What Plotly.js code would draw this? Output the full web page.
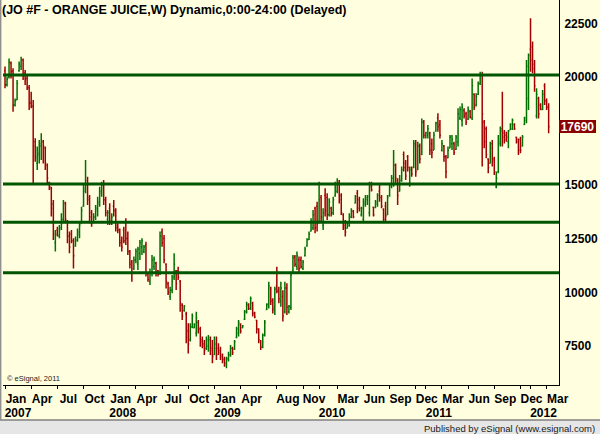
<!DOCTYPE html>
<html><head><meta charset="utf-8">
<script src="https://cdn.plot.ly/plotly-3.0.1.min.js"></script>
<style>html,body{margin:0;padding:0;background:#ffffe0;}#chart{width:600px;height:434px;}</style>
</head><body><div id="chart"></div>
<script>
// ---- data: weekly OHLC, JO #F orange juice ----
const firstWeek = '2007-01-05';

const open = [
 20300,19650,20000,20650,20300,18700,18950,20300,20500,20800,20200,19950,19500,18800,18650,
 17000,16000,16400,16800,17000,16700,15900,15100,14850,14100,12300,12900,12600,13000,13400,
 14150,13300,12600,12700,12400,12150,12400,12700,13200,14000,14800,15200,14400,13700,13250,
 13500,13800,14100,14600,15000,14300,13400,13900,13300,14000,13800,13100,12900,12400,12900,
 13200,12500,11900,11400,11100,11500,11300,11800,12100,
 11900,12200,10850,10500,10900,11200,11350,11000,10900,12800,12500,11300,10400,9800,10100,
 10700,11000,11000,10500,9400,9150,9000,8200,7800,8400,8350,8100,8600,8300,7800,
 7600,7400,7500,7800,7400,7100,7600,7400,7300,7100,6900,6600,6900,7100,7400,
 7350,7900,8100,8500,8350,8750,9100,9450,9250,9500,9050,8700,8300,7700,7450,
 8000,9200,9400,10200,9650,9300,10300,10100,
 9600,9800,9100,10200,9100,9300,11000,11650,11200,11500,11500,11100,11700,12150,12450,
 12850,13000,13900,14000,13300,14400,13100,14500,14400,13600,13900,13700,14500,14700,15100,
 14500,13600,13100,12980,13100,13500,13750,14150,14600,14300,13600,13400,14100,14300,13700,
 15000,13950,13950,14100,14700,14400,13850,14000,13600,14500,14900,15300,15900,15200,14700,
 15200,16400,16000,16300,15000,15800,15800,16800,
 15700,16800,16400,17900,17200,17300,17400,16900,16600,17500,18100,17800,16600,16800,16300,
 16250,16700,16900,16900,16650,17000,18100,18000,18450,18300,18050,18400,18100,19200,18700,
 19200,19700,20100,17900,17600,16200,16000,16900,16200,14900,15600,16900,17600,17400,17300,
 17000,17550,17600,17800,17200,17100,17100,16800,17800,18000,19000,21300,21400,20600,18200,
 19000,18700,18500,19600,18900,18600
];
const high = [
 20490,20020,20870,20720,20410,19010,19870,20720,20950,20870,20330,20100,19630,19320,18940,
 17160,16770,17080,17390,17080,16770,15990,15140,14910,14290,12900,13050,13130,13670,14290,
 14210,13360,12820,12900,12510,12590,12970,13280,13980,15060,16150,15370,14520,13830,13670,
 14060,14440,14910,15140,15220,14440,13830,14140,13670,14290,13900,13210,12970,12590,13050,
 13440,12820,11970,11500,11660,12040,12120,12430,12510,
 12200,12350,10880,11110,11730,11660,11420,11040,12820,12970,12660,11350,10490,10260,10800,
 11810,11040,11190,10570,9490,9410,9100,8560,8560,9020,8560,9100,8710,8400,7940,
 7780,7940,8020,7940,7780,7940,7940,7630,7470,7160,7010,7010,7240,7550,7470,
 7780,8400,8710,8560,8480,9180,9560,9490,9800,9560,9100,8710,8330,7780,8090,
 8710,9490,10490,10260,9720,10260,11190,10260,
 10490,10100,10490,10420,9410,10960,11730,11730,11890,11660,11660,11500,12120,12510,12820,
 13440,13820,13980,14210,15140,14520,13900,14830,14600,14370,13980,14440,15140,15300,15220,
 14600,13670,13360,13280,13670,13900,13820,14520,14750,14440,13980,14370,14520,14520,15140,
 15140,13980,14290,14600,14990,14520,13900,14210,14520,15060,15450,16610,15990,15300,15450,
 15840,16540,16150,16380,15840,15840,17080,17080,
 17000,16920,18080,18010,17460,17770,17460,17150,17460,17930,18320,18010,17080,16840,16380,
 16770,17310,17310,17000,17310,18550,18630,18780,18550,18390,18630,18470,19940,19250,19250,
 19790,20250,20250,18010,17700,16230,17000,17080,16300,15610,17310,17700,19320,17540,17460,
 17540,17850,18080,17850,17230,17150,17230,17310,18160,20790,21100,22730,21650,20790,19480,
 19090,18780,19400,19710,19010,18780
];
const low = [
 19480,19560,19940,19940,18390,18630,18940,20250,20330,19870,19630,19400,18470,18550,15060,
 16070,15680,15990,16150,15990,15680,15060,14750,13520,12430,11890,12590,12510,12900,13210,
 13210,12280,11810,12280,11110,12120,12350,12510,13210,13980,14600,14060,13210,13050,13210,
 13360,13520,13980,14440,14060,13520,13130,13130,13130,13520,12820,12740,12120,11890,12280,
 12200,11730,11110,10490,11040,11350,11040,11500,11730,
 11810,10730,10490,10340,10730,11040,10730,10730,10800,12120,11350,10180,9870,9640,9950,
 10570,10110,10570,9100,8710,9100,7630,7160,7710,8330,8330,7940,8090,7470,7400,
 7090,7320,7240,7090,6700,7090,6850,7090,6850,6700,6540,6470,6780,7010,7090,
 7320,7860,7940,8090,8330,8710,9020,9180,9180,8870,8790,8090,7630,7320,7400,
 7940,9180,9250,9410,9020,8950,9950,9490,
 9330,8640,9020,8950,9020,9180,10960,11190,11040,10880,11110,11040,11660,12120,12430,
 12820,12900,12740,12820,13210,13280,12900,13520,13360,13520,13520,13590,14440,14600,14130,
 13590,12900,12590,12970,13050,13440,13440,14130,13670,13750,13520,13280,13980,14060,13520,
 14680,13520,13900,13980,14210,13900,13280,13280,13590,14440,14830,14910,14990,14060,14680,
 15140,15610,15220,15610,14910,15370,15760,15370,
 15680,15990,16380,17150,17150,17150,16380,16230,16610,17460,17460,17150,16540,16070,15300,
 16230,16690,16610,16380,16610,16770,18010,17700,18080,17770,18010,18080,18010,18470,18630,
 19170,19630,15840,16690,16230,15530,15990,15840,15450,14830,15530,16770,16770,16920,17000,
 16690,17540,17540,17540,16920,16380,16460,16770,17770,17850,18470,20250,20180,19320,18080,
 18080,18470,18470,18700,18470,17390
];
const close = [
 19650,19900,20700,20250,18700,18900,19700,20600,20800,20100,19900,19500,18800,18650,16800,
 16300,16500,16900,17050,16800,16000,15300,14900,13900,12700,12700,12650,12900,13400,14100,
 13400,12600,12100,12400,11700,12450,12800,13100,13800,14700,15000,14300,13500,13200,13500,
 13900,14200,14700,15000,14300,13700,13700,13300,13500,13800,13000,12900,12300,12100,12400,
 12500,11900,11300,10900,11500,11900,12000,12300,12400,
 12100,10900,10600,10900,11500,11550,10900,10850,12600,12300,11500,10500,10000,10100,10500,
 11300,10400,10700,9500,8900,9350,7900,7600,8400,8900,8500,8800,8300,7700,7500,
 7300,7800,7900,7300,7000,7400,7100,7200,7000,6850,6700,6900,7100,7400,7200,
 7700,8300,8600,8200,8450,9100,9400,9250,9700,9000,8850,8300,7800,7450,8000,
 8600,9450,10300,9600,9200,10150,10050,9700,
 10200,8900,10200,9300,9350,10800,11600,11300,11700,11100,11200,11400,12000,12450,12700,
 13300,13600,13000,13200,14300,13500,13700,13800,13600,14200,13700,14300,15000,15200,14300,
 13700,13000,12800,13200,13500,13800,13500,14450,13900,13900,13900,14200,14400,14450,14900,
 14750,13600,14200,14500,14400,14000,13400,13550,14400,15000,15300,15900,15300,14500,15200,
 15700,15800,15400,15800,15700,15500,16900,15600,
 16800,16200,17900,17300,17400,17600,16600,16500,17300,17850,17700,17300,16900,16300,15600,
 16600,17200,17100,16500,17200,18300,18500,18600,18200,17900,18500,18150,19600,18600,19100,
 19700,20100,18300,17000,16400,15800,16700,16100,15600,15300,17000,17500,17200,17100,17200,
 17500,17800,18000,17600,17000,16600,16600,17200,18100,20500,21000,20800,20400,19600,19200,
 18300,18500,19200,18900,18600,17690
];

// horizontal support / resistance levels
const levels = [20100, 15030, 13260, 10910];
const lastPrice = 17690;

// axis ticks
const yTicks = [7500, 10000, 12500, 15000, 20000, 22500];
const monthTickKeys = ['2007-01','2007-04','2007-07','2007-10','2008-01','2008-04','2008-07','2008-10',
  '2009-01','2009-04','2009-08','2009-11','2010-03','2010-06','2010-09','2010-12',
  '2011-03','2011-06','2011-09','2011-12','2012-03'];
const monthTickLabels = ['Jan','Apr','Jul','Oct','Jan','Apr','Jul','Oct','Jan','Apr','Aug','Nov',
  'Mar','Jun','Sep','Dec','Mar','Jun','Sep','Dec','Mar'];
const yearTickKeys = ['2007-01','2008-01','2009-01','2010-01','2011-01','2012-01'];
const yearTickLabels = ['2007','2008','2009','2010','2011','2012'];

const titleText = '(JO #F - ORANGE JUICE,W) Dynamic,0:00-24:00 (Delayed)';

// ---- build ----
const dates = [];
const t0 = Date.parse(firstWeek + 'T00:00:00Z');
for (let i = 0; i < close.length; i++) {
  dates.push(new Date(t0 + i * 7 * 86400000).toISOString().slice(0, 10));
}
const firstBarOf = k => dates.find(d => d.startsWith(k));
const monthVals = monthTickKeys.map(firstBarOf);
const yearVals = yearTickKeys.map(firstBarOf);

const FONT = '"Liberation Sans", Arial, sans-serif';
const boldFont = {family: FONT, size: 12, color: '#000', weight: 'bold'};
const xRange = ['2006-12-29', '2012-04-14'];

const trace = {
  type: 'ohlc', x: dates, open: open, high: high, low: low, close: close,
  increasing: {line: {color: '#007000', width: 1.5}},
  decreasing: {line: {color: '#a00000', width: 1.5}},
  tickwidth: 0.5, hoverinfo: 'skip', showlegend: false
};
// invisible companion so the year axis (x2) is drawn
const yearAxisCarrier = {
  type: 'scatter', mode: 'lines', x: dates, y: close, xaxis: 'x2', yaxis: 'y',
  line: {width: 0, color: 'rgba(0,0,0,0)'}, opacity: 0, hoverinfo: 'skip', showlegend: false
};

const shapes = levels.map(v => ({
  type: 'line', xref: 'paper', yref: 'y', x0: 0, x1: 1, y0: v, y1: v,
  line: {color: '#005500', width: 3}
}));
shapes.push({type: 'rect', xref: 'paper', yref: 'paper', x0: -0.006, x1: 1.075, y0: -0.128, y1: -0.0909,
  fillcolor: '#e6e6e6', line: {width: 0}});
shapes.push({type: 'line', xref: 'paper', yref: 'paper', x0: -0.006, x1: 1.075, y0: -0.0909, y1: -0.0909,
  line: {color: '#808080', width: 1.5}});
shapes.push({type: 'line', xref: 'paper', yref: 'paper', x0: -0.0042, x1: -0.0042, y0: -0.0909, y1: 1.01,
  line: {color: '#909090', width: 1.5}});

const layout = {
  width: 600, height: 434,
  margin: {l: 3, r: 41, t: 0, b: 49, pad: 0},
  paper_bgcolor: '#ffffe0', plot_bgcolor: '#ffffe0',
  showlegend: false,
  title: {text: titleText, xref: 'container', yref: 'container', x: 2 / 600, xanchor: 'left',
    y: 1 - 10 / 434, yanchor: 'middle', font: {family: FONT, size: 12.5, color: '#000', weight: 'bold'}},
  xaxis: {type: 'date', range: xRange, rangeslider: {visible: false}, fixedrange: true,
    tickmode: 'array', tickvals: monthVals, ticktext: monthTickLabels,
    ticks: 'outside', ticklen: 3, tickcolor: '#000', tickwidth: 1,
    showline: true, linecolor: '#000', linewidth: 1, showgrid: false, zeroline: false,
    tickfont: boldFont, ticklabelshift: 11},
  xaxis2: {type: 'date', range: xRange, overlaying: 'x', anchor: 'y', side: 'bottom', fixedrange: true,
    rangeslider: {visible: false},
    tickmode: 'array', tickvals: yearVals, ticktext: yearTickLabels,
    ticks: 'outside', ticklen: 3, tickcolor: '#000', tickwidth: 1,
    showline: false, showgrid: false, zeroline: false,
    tickfont: boldFont, ticklabelshift: 13, ticklabelstandoff: 14},
  yaxis: {side: 'right', range: [5692, 23583], fixedrange: true,
    tickmode: 'array', tickvals: yTicks, ticktext: yTicks.map(String),
    ticks: '', showline: true, linecolor: '#000', linewidth: 1,
    showgrid: false, zeroline: false, tickfont: boldFont, ticklabelstandoff: 2},
  shapes: shapes,
  annotations: [
    {text: String(lastPrice), xref: 'paper', x: 1, xanchor: 'left', yref: 'y', y: lastPrice, yanchor: 'middle',
     showarrow: false, bgcolor: '#8b0000', borderpad: 0, borderwidth: 0, width: 37, height: 13,
     font: {family: FONT, size: 12, color: '#ffffff', weight: 'bold'}},
    {text: '\u00a9 eSignal, 2011', xref: 'paper', x: 0.0036, xanchor: 'left', yref: 'paper', y: 0.0156, yanchor: 'middle',
     showarrow: false, font: {family: FONT, size: 7.5, color: '#202020'}},
    {text: 'Published by eSignal (www.esignal.com)', xref: 'paper', x: 1.0665, xanchor: 'right',
     yref: 'paper', y: -0.1117, yanchor: 'middle', showarrow: false, borderpad: 0, height: 11,
     font: {family: FONT, size: 9.5, color: '#202020'}}
  ]
};

Plotly.newPlot('chart', [trace, yearAxisCarrier], layout, {displayModeBar: false, staticPlot: true});
</script>
</body></html>
